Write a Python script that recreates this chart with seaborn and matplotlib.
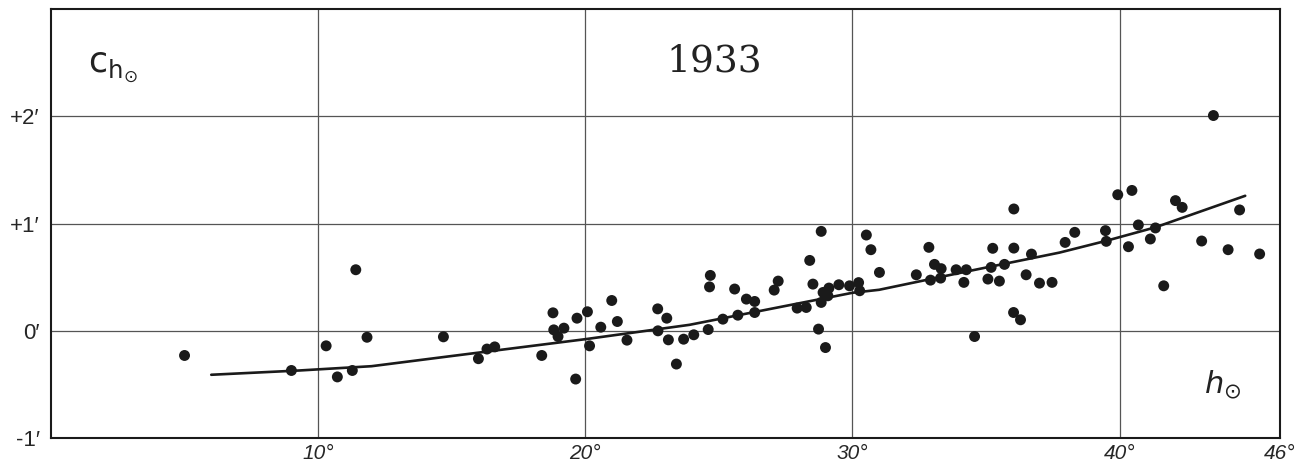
import matplotlib
matplotlib.use("Agg")
import matplotlib.pyplot as plt
import pandas as pd
import seaborn as sns

# Observed points: solar altitude (deg) and correction (arc minutes)
obs_h = [5.0, 9.0, 10.3, 10.72, 11.28, 11.41, 11.83, 14.69, 16.0, 16.32, 16.61,
         18.37, 18.79, 18.82, 18.98, 19.2, 19.69, 19.64, 20.08, 20.16, 20.58,
         20.99, 21.2, 21.56, 22.71, 22.72, 23.05, 23.11, 23.41, 23.68, 24.06,
         24.6, 24.68, 24.65, 25.15, 25.59, 25.71, 26.03, 26.34, 26.34, 27.07,
         27.22, 27.93, 28.27, 28.4, 28.83, 28.52, 28.83, 28.73, 28.99, 28.9,
         29.12, 29.08, 29.49, 29.89, 30.23, 30.27, 30.52, 30.69, 31.01, 32.39,
         32.86, 32.92, 33.07, 33.32, 33.3, 33.88, 34.17, 34.26, 34.57, 35.07,
         35.19, 35.25, 35.5, 35.69, 36.04, 36.04, 36.03, 36.29, 36.5, 36.7,
         37.0, 37.47, 37.96, 38.32, 39.47, 39.5, 39.93, 40.46, 40.33, 40.7,
         41.15, 41.34, 41.65, 42.09, 42.34, 43.07, 43.51, 44.06, 44.49, 45.24]
obs_c = [-0.23, -0.37, -0.14, -0.43, -0.37, 0.57, -0.06, -0.056, -0.26, -0.17, -0.15,
         -0.23, 0.168, 0.009, -0.053, 0.025, 0.118, -0.45, 0.178, -0.14, 0.034,
         0.283, 0.087, -0.087, 0.205, 0.0, 0.118, -0.084, -0.31, -0.078, -0.037,
         0.012, 0.517, 0.41, 0.109, 0.39, 0.146, 0.296, 0.274, 0.171, 0.38,
         0.464, 0.212, 0.218, 0.657, 0.928, 0.436, 0.265, 0.016, -0.156, 0.358,
         0.399, 0.327, 0.43, 0.42, 0.45, 0.374, 0.894, 0.757, 0.545, 0.523,
         0.779, 0.473, 0.62, 0.58, 0.492, 0.57, 0.452, 0.57, -0.053, 0.483,
         0.592, 0.77, 0.464, 0.62, 1.137, 0.772, 0.171, 0.103, 0.523, 0.716,
         0.445, 0.452, 0.825, 0.919, 0.935, 0.835, 1.27, 1.31, 0.785, 0.988,
         0.857, 0.96, 0.42, 1.215, 1.152, 0.838, 2.009, 0.757, 1.128, 0.717]

# Smoothed curve
curve_h = [6, 9.3, 12, 15, 20, 23.9, 25, 30, 31, 34.4, 37.75, 39.5, 41.34, 44.7]
curve_c = [-0.41, -0.37, -0.33, -0.235, -0.078, 0.056, 0.11, 0.355, 0.383,
           0.56, 0.73, 0.84, 0.966, 1.26]

x_ticks = [10, 20, 30, 40, 46]
x_labels = ["10°", "20°", "30°", "40°", "46°"]
y_ticks = [-1, 0, 1, 2]
y_labels = ["-1′", "0′", "+1′", "+2′"]

obs = pd.DataFrame({"h": obs_h, "c": obs_c})
curve = pd.DataFrame({"h": curve_h, "c": curve_c})

sns.set_style("white")
plt.rcParams["font.family"] = ["Liberation Sans", "DejaVu Sans"]

fig = plt.figure(figsize=(13.03, 4.68), dpi=100)
ax = fig.add_axes([0.0391, 0.0641, 0.9432, 0.916])

sns.lineplot(data=curve, x="h", y="c", sort=False, color="#1a1a1a", linewidth=1.9, ax=ax)
sns.scatterplot(data=obs, x="h", y="c", color="#1a1a1a", s=62, edgecolor="none", ax=ax, zorder=3)

ax.set_xlim(0, 46)
ax.set_ylim(-1, 3)

for gx in [10, 20, 30, 40]:
    ax.axvline(gx, color="#555555", linewidth=0.9, zorder=1)
for gy in [0, 1, 2]:
    ax.axhline(gy, color="#555555", linewidth=0.9, zorder=1)

ax.set_xticks(x_ticks)
ax.set_xticklabels(x_labels, fontstyle="italic", fontsize=15)
ax.set_xticks([t for t in range(2, 46, 2) if t % 10 != 0], minor=True)
ax.tick_params(axis="x", which="major", length=0, pad=4)
ax.tick_params(axis="x", which="minor", direction="in", length=7, width=0.9, color="#333333")
ax.set_yticks(y_ticks)
ax.set_yticklabels(y_labels, fontsize=16)
ax.tick_params(axis="y", length=0, pad=8)

for sp in ax.spines.values():
    sp.set_color("#1a1a1a")
    sp.set_linewidth(1.5)

ax.set_xlabel("")
ax.set_ylabel("")

ax.text(24.84, 2.51, "1933", fontsize=27, family="DejaVu Serif", ha="center", va="center",
        color="#222222")
ax.text(1.38, 2.45, r"$\mathsf{c}_{\mathsf{h}_{\odot}}$", fontsize=25, ha="left", va="center",
        color="#222222")
ax.text(43.15, -0.5, r"$h_{\odot}$", fontsize=22, ha="left", va="center", color="#222222")

fig.savefig("out.png", dpi=100, facecolor="white")
